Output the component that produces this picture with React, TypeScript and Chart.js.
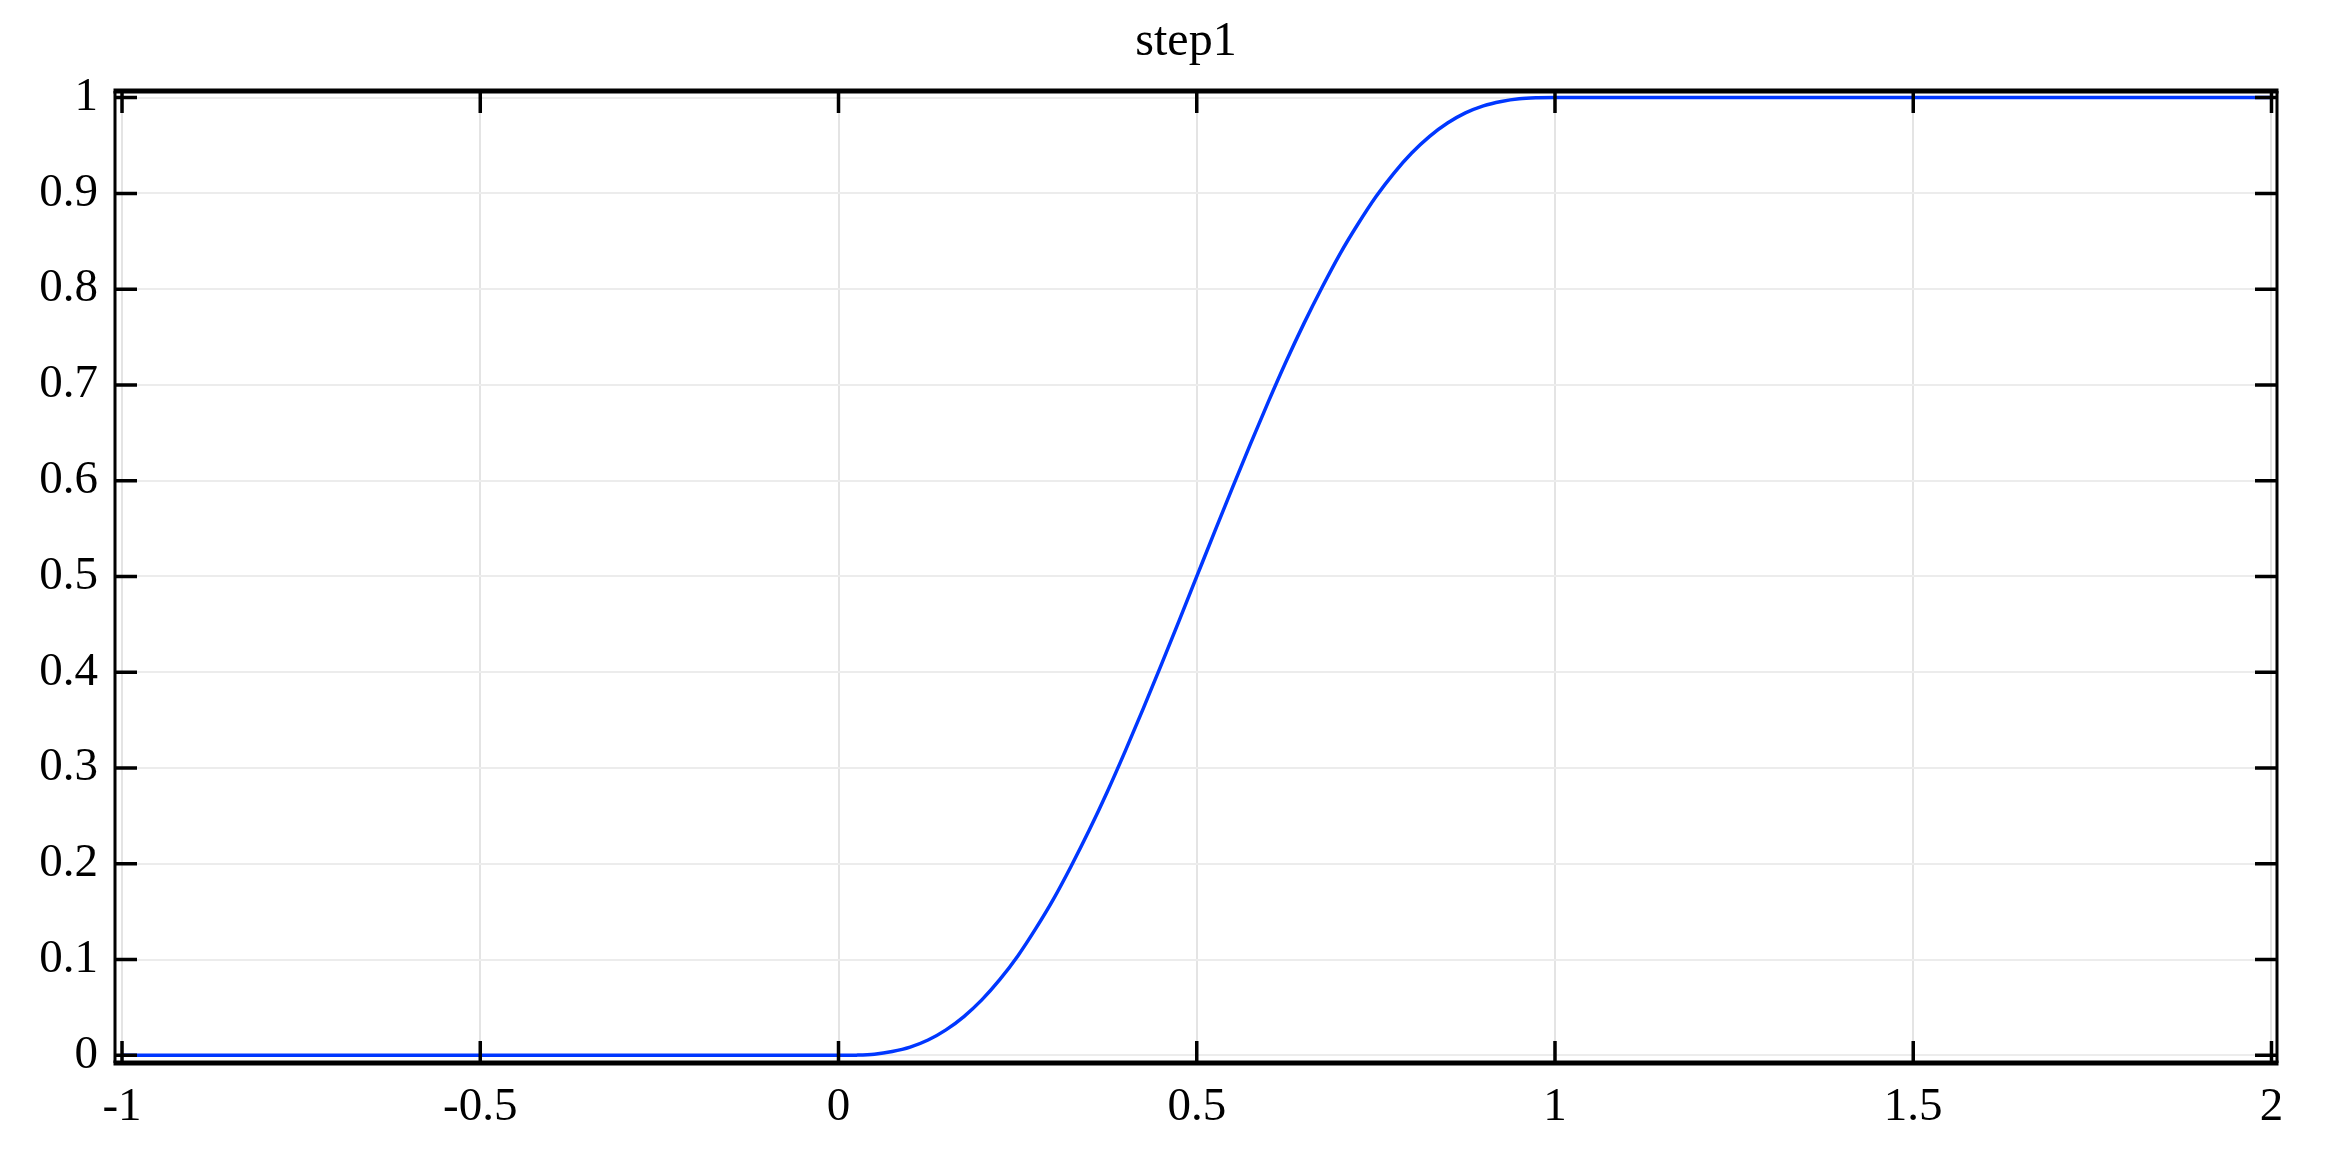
import React, { useEffect, useRef } from "react";
import { Chart, registerables } from "chart.js";

Chart.register(...registerables);

const chartTitle = "step1";
const xValues = [
  -1, 0, 0.025, 0.05, 0.075, 0.1, 0.125, 0.15, 0.175, 0.2, 0.225, 0.25, 0.275, 0.3, 0.325, 0.35, 0.375, 0.4, 0.425, 0.45, 0.475,
  0.5, 0.525, 0.55, 0.575, 0.6, 0.625, 0.65, 0.675, 0.7, 0.725, 0.75, 0.775, 0.8, 0.825, 0.85, 0.875, 0.9, 0.925, 0.95, 0.975, 1, 2,
];
const yValues = [
  0, 0, 0.0002, 0.0012, 0.004, 0.0086, 0.016, 0.0266, 0.0405, 0.0579, 0.079, 0.1035, 0.132, 0.1631, 0.198, 0.2352, 0.275, 0.3174, 0.3615, 0.4069, 0.4532,
  0.5, 0.5468, 0.5931, 0.6385, 0.6826, 0.725, 0.7648, 0.802, 0.8369, 0.868, 0.8965, 0.921, 0.9421, 0.9595, 0.9734, 0.984, 0.9914, 0.996, 0.9988, 0.9998, 1, 1,
];
const xTickValues = [-1, -0.5, 0, 0.5, 1, 1.5, 2];
const xTickLabels = ["-1", "-0.5", "0", "0.5", "1", "1.5", "2"];
const yTickValues = [0, 0.1, 0.2, 0.3, 0.4, 0.5, 0.6, 0.7, 0.8, 0.9, 1];
const yTickLabels = ["0", "0.1", "0.2", "0.3", "0.4", "0.5", "0.6", "0.7", "0.8", "0.9", "1"];

const FONT = "'Liberation Serif', 'DejaVu Serif', serif";

const framePlugin = {
  id: "frameTicks",
  afterDraw(chart: any) {
    const { ctx, chartArea } = chart;
    const { left, right, top, bottom } = chartArea;
    const xs = chart.scales.x;
    const ys = chart.scales.y;
    const tl = 22;
    ctx.save();
    ctx.strokeStyle = "#000";
    ctx.lineWidth = 3.5;
    ctx.beginPath();
    for (const t of xs.ticks) {
      const px = xs.getPixelForValue(t.value);
      ctx.moveTo(px, bottom);
      ctx.lineTo(px, bottom - tl);
      ctx.moveTo(px, top);
      ctx.lineTo(px, top + tl);
    }
    for (const t of ys.ticks) {
      const py = ys.getPixelForValue(t.value);
      ctx.moveTo(left, py);
      ctx.lineTo(left + tl, py);
      ctx.moveTo(right, py);
      ctx.lineTo(right - tl, py);
    }
    ctx.stroke();
    ctx.lineWidth = 3;
    ctx.beginPath();
    ctx.moveTo(left, top);
    ctx.lineTo(left, bottom);
    ctx.moveTo(right, top);
    ctx.lineTo(right, bottom);
    ctx.stroke();
    ctx.lineWidth = 5;
    ctx.beginPath();
    ctx.moveTo(left - 1.5, top);
    ctx.lineTo(right + 1.5, top);
    ctx.moveTo(left - 1.5, bottom);
    ctx.lineTo(right + 1.5, bottom);
    ctx.stroke();
    ctx.fillStyle = "#000";
    ctx.font = `48px ${FONT}`;
    ctx.textAlign = "center";
    ctx.textBaseline = "alphabetic";
    ctx.fillText(chartTitle, 1186, 55);
    ctx.restore();
  },
};

export default function App() {
  const ref = useRef<HTMLCanvasElement | null>(null);
  useEffect(() => {
    if (!ref.current) return;
    const points = xValues.map((x, i) => ({ x, y: yValues[i] }));
    const chart = new Chart(ref.current, {
      type: "line",
      data: {
        datasets: [
          {
            data: points,
            borderColor: "#0037ff",
            borderWidth: 3.5,
            pointRadius: 0,
            fill: false,
            cubicInterpolationMode: "monotone",
          },
        ],
      },
      options: {
        animation: false,
        responsive: false,
        maintainAspectRatio: false,
        layout: { padding: { top: 91, right: 53, left: 0, bottom: 0 } },
        plugins: { legend: { display: false }, title: { display: false }, tooltip: { enabled: false } },
        scales: {
          x: {
            type: "linear",
            min: -1.0098,
            max: 2.0077,
            afterBuildTicks: (s: any) => {
              s.ticks = xTickValues.map((v) => ({ value: v }));
            },
            afterFit: (s: any) => {
              s.height = 107;
            },
            grid: { color: "#e4e4e4", lineWidth: 2, drawTicks: false },
            border: { display: false },
            ticks: {
              color: "#000",
              padding: 16,
              maxRotation: 0,
              autoSkip: false,
              font: { family: FONT, size: 47 },
              callback: (_v: any, i: number) => xTickLabels[i],
            },
          },
          y: {
            type: "linear",
            min: -0.008,
            max: 1.0069,
            afterBuildTicks: (s: any) => {
              s.ticks = yTickValues.map((v) => ({ value: v }));
            },
            afterFit: (s: any) => {
              s.width = 115;
            },
            grid: { color: "#ececec", lineWidth: 2, drawTicks: false },
            border: { display: false },
            ticks: {
              color: "#000",
              padding: 17,
              autoSkip: false,
              font: { family: FONT, size: 47 },
              callback: (_v: any, i: number) => yTickLabels[i],
            },
          },
        },
      },
      plugins: [framePlugin],
    });
    return () => chart.destroy();
  }, []);
  return (
    <div style={{ position: "fixed", left: 0, top: 0, width: 2330, height: 1170, background: "#fff" }}>
      <canvas ref={ref} width={2330} height={1170} style={{ display: "block" }} />
    </div>
  );
}
